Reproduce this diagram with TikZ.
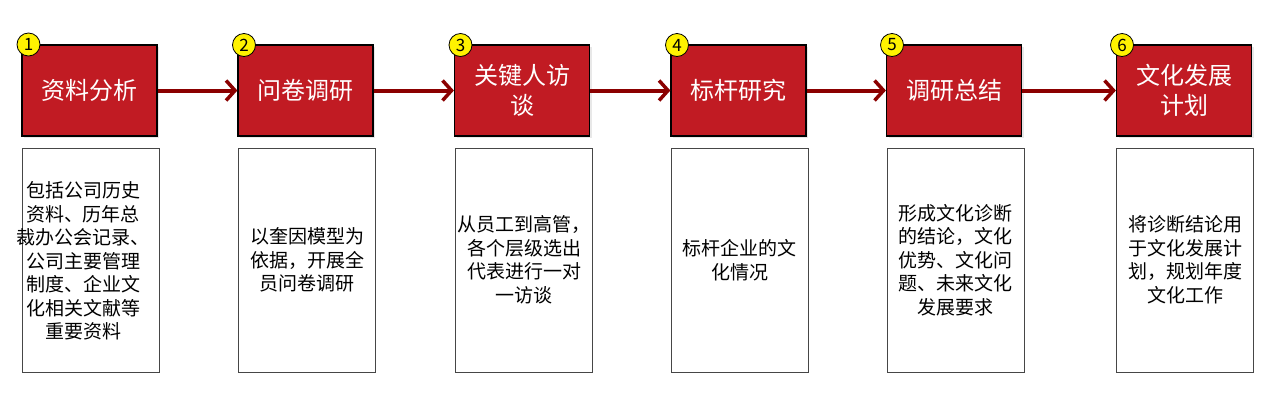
\documentclass[tikz,border=0pt]{standalone}
\usepackage{fontspec}
\newfontfamily\cjk{Noto Sans CJK SC}
\usetikzlibrary{arrows.meta,shadows}
\definecolor{boxred}{RGB}{193,27,35}
\definecolor{arrred}{RGB}{139,0,0}
\definecolor{edgegray}{RGB}{70,70,70}
\begin{document}
\begin{tikzpicture}[x=1pt,y=-1pt,
  titlebox/.style={draw=black, line width=1.2pt, fill=boxred, minimum width=135pt, minimum height=91pt,
    text=white, font=\cjk\fontsize{24}{30}\selectfont, align=center, inner sep=0pt,
    drop shadow={shadow xshift=2pt, shadow yshift=-2pt, opacity=0.18}},
  descbox/.style={draw=edgegray, line width=0.8pt, fill=white, minimum width=137pt, minimum height=224pt,
    font=\cjk\fontsize{19}{23.5}\selectfont, align=center, inner sep=0pt},
  desctext/.style={font=\cjk\fontsize{19}{23.5}\selectfont, align=center, inner sep=0pt},
  badge/.style={circle, draw=black, line width=0.8pt, fill=yellow, minimum size=23pt, inner sep=0pt,
    font=\cjk\fontsize{17}{17}\selectfont},
  flow/.style={draw=arrred, line width=4pt, -{Straight Barb[length=9pt,width=20pt,line width=3.5pt]}}]
\useasboundingbox (0,0) rectangle (1280,400);
\fill[white] (0,0) rectangle (1280,400);

\node[titlebox] (t1) at (89.5,90.5) {资料分析};
\node[titlebox] (t2) at (305.5,90.5) {问卷调研};
\node[titlebox] (t3) at (522,90.5) {关键人访\\谈};
\node[titlebox] (t4) at (738.5,90.5) {标杆研究};
\node[titlebox] (t5) at (954,90.5) {调研总结};
\node[titlebox] (t6) at (1184,90.5) {文化发展\\计划};

\node[badge] (b1) at (28.5,44.5) {1};
\node[badge] (b2) at (244,45) {2};
\node[badge] (b3) at (460.5,45) {3};
\node[badge] (b4) at (677,45) {4};
\node[badge] (b5) at (892,45) {5};
\node[badge] (b6) at (1122,45) {6};

\draw[flow] (t1.east) -- (t2.west);
\draw[flow] (t2.east) -- (t3.west);
\draw[flow] (t3.east) -- (t4.west);
\draw[flow] (t4.east) -- (t5.west);
\draw[flow] (t5.east) -- (t6.west);

\node[descbox] (d1) at (90.5,260) {};
\node[desctext] (d1t) at (83,261) {包括公司历史\\资料、历年总\\裁办公会记录、\\公司主要管理\\制度、企业文\\化相关文献等\\重要资料};
\node[descbox] (d2) at (307,260) {以奎因模型为\\依据，开展全\\员问卷调研};
\node[descbox] (d3) at (524,260) {从员工到高管，\\各个层级选出\\代表进行一对\\一访谈};
\node[descbox] (d4) at (739.5,260) {标杆企业的文\\化情况};
\node[descbox] (d5) at (955.5,260) {形成文化诊断\\的结论，文化\\优势、文化问\\题、未来文化\\发展要求};
\node[descbox] (d6) at (1185,260) {将诊断结论用\\于文化发展计\\划，规划年度\\文化工作};
\end{tikzpicture}
\end{document}
